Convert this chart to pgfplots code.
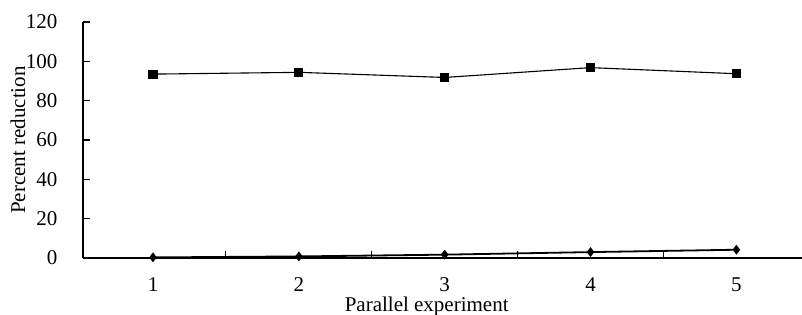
\documentclass[border=0pt]{standalone}
\usepackage{pgfplots}
\pgfplotsset{compat=1.18}
\usepackage{fontspec}
\setmainfont{Liberation Serif}
\begin{document}
\begin{tikzpicture}[x=1pt,y=1pt]
\useasboundingbox (-83,-57) rectangle (719,258);
\begin{axis}[
  scale only axis,
  width=719pt, height=236pt,
  xmin=0.52, xmax=5.45,
  ymin=0, ymax=120,
  axis lines=left,
  axis line style={-, line width=1.3pt},
  xtick={1.5,2.5,3.5,4.5},
  xticklabels={},
  extra x ticks={1,2,3,4,5},
  extra x tick labels={1,2,3,4,5},
  extra x tick style={major tick length=0pt},
  ytick={0,20,40,60,80,100,120},
  tick align=inside,
  major tick length=7pt,
  tick style={black, line width=1.1pt},
  ticklabel style={font=\fontsize{21}{22}\selectfont},
  /pgf/number format/assume math mode=true,
  xticklabel style={yshift=-16pt},
  yticklabel style={xshift=-22pt},
  xlabel={Parallel experiment},
  ylabel={Percent reduction},
  label style={font=\fontsize{21}{23}\selectfont},
  x label style={at={(axis description cs:0.478,-0.205)}, anchor=center},
  y label style={at={(axis description cs:-0.0904,0.5)}, anchor=center},
  clip=false,
]
\addplot[black, line width=1.1pt, mark=square*, mark size=4pt, mark options={solid}]
  coordinates {(1,93.5) (2,94.4) (3,91.8) (4,96.8) (5,93.7)};
\addplot[black, line width=1.8pt, mark=diamond*, mark size=3.5pt, mark options={solid}]
  coordinates {(1,0.3) (2,0.8) (3,1.7) (4,3.0) (5,4.2)};
\end{axis}
\end{tikzpicture}
\end{document}
